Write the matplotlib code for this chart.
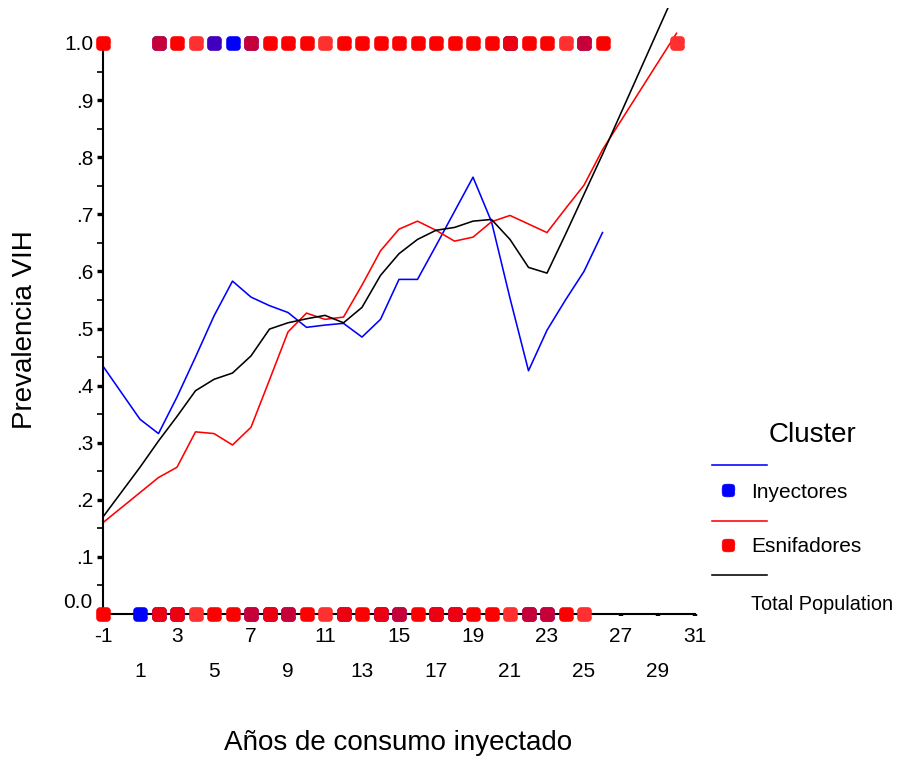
import matplotlib
matplotlib.use("Agg")
import numpy as np
import matplotlib.pyplot as plt
from matplotlib.lines import Line2D
from matplotlib.ticker import FixedLocator
import matplotlib.transforms as mtransforms

plt.rcParams['font.family'] = ['Liberation Sans', 'DejaVu Sans']

# ---- fitted prevalence curves by years of injecting ----
iny_x = [-1, 1, 2, 3, 4, 5, 6, 7, 8, 9, 10, 11, 12, 13, 14, 15, 16, 17, 18, 19, 20, 21, 22, 23, 24, 25, 26]
iny_y = [0.434, 0.341, 0.316, 0.380, 0.450, 0.522, 0.583, 0.555, 0.540, 0.528, 0.502, 0.506, 0.509, 0.485,
         0.516, 0.586, 0.586, 0.645, 0.705, 0.765, 0.687, 0.553, 0.426, 0.497, 0.550, 0.600, 0.668]

esn_x = [-1, 2, 3, 4, 5, 6, 7, 8, 9, 10, 11, 12, 13, 14, 15, 16, 17, 18, 19, 20, 21, 22, 23, 24, 25, 26, 30]
esn_y = [0.160, 0.239, 0.257, 0.319, 0.316, 0.296, 0.327, 0.410, 0.494, 0.527, 0.516, 0.520, 0.576, 0.636,
         0.674, 0.688, 0.672, 0.653, 0.660, 0.687, 0.698, 0.683, 0.668, 0.710, 0.751, 0.813, 1.017]

tot_x = [-1, 1, 2, 3, 4, 5, 6, 7, 8, 9, 10, 11, 12, 13, 14, 15, 16, 17, 18, 19, 20, 21, 22, 23, 24, 25, 26, 30]
tot_y = [0.170, 0.257, 0.303, 0.346, 0.391, 0.411, 0.422, 0.452, 0.499, 0.510, 0.517, 0.523, 0.510, 0.537,
         0.593, 0.631, 0.656, 0.672, 0.677, 0.688, 0.691, 0.656, 0.607, 0.597, 0.665, 0.735, 0.805, 1.095]

# ---- observed cases (HIV+ = 1, HIV- = 0) ----
# group codes: E = Esnifadores, I = Inyectores, B = both, m = both (mostly Esnifadores),
#              b = both (mostly Inyectores), L = Esnifadores (overlapping cases)
pos_x = [-1, 2, 3, 4, 5, 6, 7, 8, 9, 10, 11, 12, 13, 14, 15, 16, 17, 18, 19, 20, 21, 22, 23, 24, 25, 26, 30]
pos_g = ['E', 'B', 'E', 'L', 'b', 'I', 'B', 'E', 'E', 'E', 'L', 'E', 'E', 'E', 'E', 'E', 'E', 'E', 'E', 'E',
         'm', 'E', 'E', 'L', 'B', 'E', 'L']
neg_x = [-1, 1, 2, 3, 4, 5, 6, 7, 8, 9, 10, 11, 12, 13, 14, 15, 16, 17, 18, 19, 20, 21, 22, 23, 24, 25]
neg_g = ['E', 'I', 'm', 'm', 'L', 'E', 'E', 'B', 'm', 'B', 'E', 'L', 'm', 'E', 'm', 'B', 'E', 'm', 'm', 'E',
         'E', 'L', 'B', 'B', 'E', 'L']

x_ticks = list(range(-1, 32, 2))
y_ticks = [0.0, 0.1, 0.2, 0.3, 0.4, 0.5, 0.6, 0.7, 0.8, 0.9, 1.0]
y_minor = [0.05, 0.15, 0.25, 0.35, 0.45, 0.55, 0.65, 0.75, 0.85, 0.95]
y_labels = ['0.0', '.1', '.2', '.3', '.4', '.5', '.6', '.7', '.8', '.9', '1.0']

BLUE = '#0000FF'
RED = '#FF0000'
BLACK = '#000000'

W, H = 903, 758
fig = plt.figure(figsize=(W / 100, H / 100), dpi=100)
ax = fig.add_axes([103 / W, (H - 614) / H, 592 / W, (614 - 8) / H])
ax.set_xlim(-1, 31)
ax.set_ylim(0, (614 - 8) / 571)

ax.plot(iny_x, iny_y, color=BLUE, lw=1.15, zorder=3)
ax.plot(esn_x, esn_y, color=RED, lw=1.15, zorder=3)
ax.plot(tot_x, tot_y, color=BLACK, lw=1.15, zorder=3)

# rounded-square marker outline (superellipse)
_t = np.linspace(0, 2 * np.pi, 64, endpoint=False)
_c, _s = np.cos(_t), np.sin(_t)
rsq = np.column_stack([np.sign(_c) * np.abs(_c) ** 0.5, np.sign(_s) * np.abs(_s) ** 0.5])

mkw = dict(marker=rsq, ms=10.2, mew=0.4, linestyle='none', clip_on=False, zorder=6)

# red layer opacity on top of a blue case, per group code
overlay = {'B': 0.78, 'm': 0.93, 'b': 0.25}


def draw_cases(xs, gs, yv):
    for x, g in zip(xs, gs):
        if g == 'E':
            ax.plot([x], [yv], color=RED, mec=RED, **mkw)
        elif g == 'L':
            ax.plot([x], [yv], color='#FF3030', mec='#FF2020', **mkw)
        elif g == 'I':
            ax.plot([x], [yv], color=BLUE, mec=BLUE, **mkw)
        else:
            ax.plot([x], [yv], color=BLUE, mec=BLUE, **mkw)
            ax.plot([x], [yv], color=RED, mec=RED, alpha=overlay[g], **mkw)


draw_cases(pos_x, pos_g, 1.0)
draw_cases(neg_x, neg_g, 0.0)

# axes styling
for side in ('top', 'right'):
    ax.spines[side].set_visible(False)
ax.spines['left'].set_bounds(0, 1)
ax.spines['left'].set_linewidth(1.5)
ax.spines['bottom'].set_linewidth(1.5)
ax.spines['left'].set_zorder(4)
ax.spines['bottom'].set_zorder(4)

ax.yaxis.set_major_locator(FixedLocator(y_ticks))
ax.yaxis.set_minor_locator(FixedLocator(y_minor))
ax.set_yticklabels([''] + y_labels[1:])
ax.tick_params(axis='y', which='major', direction='out', length=4, width=2.4, pad=3, labelsize=15)
ax.tick_params(axis='y', which='minor', direction='out', length=4, width=1.2)

ax.xaxis.set_major_locator(FixedLocator(x_ticks))
ax.set_xticklabels([''] * len(x_ticks))
ax.tick_params(axis='x', which='major', direction='out', length=1.6, width=3.2, pad=0)

# zero label sits slightly above its tick
ax.annotate(y_labels[0], xy=(0, 0), xycoords=('axes fraction', 'data'), xytext=(-7.5, 8),
            textcoords='offset points', ha='right', va='center', fontsize=15)

# staggered x tick labels on two rows
xtr = mtransforms.blended_transform_factory(ax.transData, ax.transAxes)
for i, t in enumerate(x_ticks):
    dy = -16 if i % 2 == 0 else -41.5
    ax.annotate(str(t), xy=(t, 0), xycoords=xtr, xytext=(0, dy), textcoords='offset points',
                ha='center', va='center', fontsize=15, annotation_clip=False)

fig.text(398 / W, 1 - 743 / H, 'Años de consumo inyectado', ha='center', va='center', fontsize=20)
fig.text(25 / W, 1 - 330 / H, 'Prevalencia VIH', ha='center', va='center', fontsize=20, rotation=90)


# legend
def fx(px):
    return px / W


def fy(py):
    return 1 - py / H


fig.text(fx(813), fy(435), 'Cluster', ha='center', va='center', fontsize=20)
entries = [(BLUE, 465, 490, 'Inyectores', True),
           (RED, 521, 545, 'Esnifadores', True),
           (BLACK, 575, 603, 'Total Population', False)]
for col, ly, my, label, has_marker in entries:
    fig.add_artist(Line2D([fx(712), fx(767)], [fy(ly), fy(ly)], color=col, lw=1.15,
                          transform=fig.transFigure))
    if has_marker:
        fig.add_artist(Line2D([fx(728)], [fy(my)], color=col, mec=col, marker=rsq, ms=9.2, mew=0.4,
                              linestyle='none', transform=fig.transFigure))
    fig.text(fx(751), fy(my + 2), label, ha='left', va='center',
             fontsize=15 if has_marker else 14.3)

fig.savefig('out.png', dpi=100)
